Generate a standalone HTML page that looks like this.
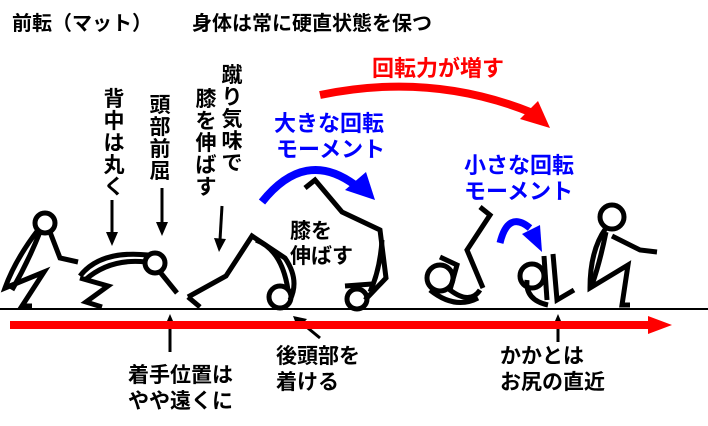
<!DOCTYPE html>
<html><head><meta charset="utf-8"><style>
body{margin:0;background:#fff;width:708px;height:426px;overflow:hidden}
svg{display:block}
text{font-family:"Liberation Sans","Noto Sans CJK JP",sans-serif;font-weight:bold}
</style></head><body>
<svg width="708" height="426" viewBox="0 0 708 426">
<text x="12" y="30" font-size="20">前転（マット）</text>
<text x="192" y="30" font-size="20">身体は常に硬直状態を保つ</text>
<text x="372" y="76" font-size="22" fill="#f00">回転力が増す</text>
<text x="274" y="131" font-size="22" fill="#00f">大きな回転</text>
<text x="276" y="157" font-size="22" fill="#00f">モーメント</text>
<text x="464" y="173" font-size="22" fill="#00f">小さな回転</text>
<text x="464" y="199" font-size="22" fill="#00f">モーメント</text>
<g font-size="21" text-anchor="middle">
<text x="114" y="106">背</text><text x="114" y="128">中</text><text x="114" y="150">は</text><text x="114" y="172">丸</text><text x="114" y="194">く</text>
<text x="160" y="112">頭</text><text x="160" y="134">部</text><text x="160" y="156">前</text><text x="160" y="178">屈</text>
<text x="206" y="106">膝</text><text x="206" y="128">を</text><text x="206" y="150">伸</text><text x="206" y="172">ば</text><text x="206" y="194">す</text>
<text x="232" y="82">蹴</text><text x="232" y="104">り</text><text x="232" y="126">気</text><text x="232" y="148">味</text><text x="232" y="170">で</text>
</g>
<text x="290" y="238" font-size="21">膝を</text>
<text x="290" y="263" font-size="21">伸ばす</text>
<text x="128" y="382" font-size="21">着手位置は</text>
<text x="128" y="408" font-size="21">やや遠くに</text>
<text x="276" y="363" font-size="21">後頭部を</text>
<text x="276" y="389" font-size="21">着ける</text>
<text x="500" y="363" font-size="21">かかとは</text>
<text x="500" y="389" font-size="21">お尻の直近</text>
<g stroke="#000" stroke-width="3" fill="none">
<line x1="112" y1="200" x2="112" y2="234"/>
<line x1="162" y1="188" x2="162" y2="224"/>
<line x1="222" y1="206" x2="220" y2="240"/>
<line x1="170" y1="352" x2="170" y2="326"/>
<line x1="320" y1="338" x2="303" y2="324"/>
<line x1="558" y1="342" x2="558" y2="326"/>
</g>
<g fill="#000">
<path d="M106,232 L118,232 L112,246z"/>
<path d="M156,222 L168,222 L162,236z"/>
<path d="M214,238 L226,239 L219,252z"/>
<path d="M164,328 L176,328 L170,314z"/>
<path d="M298,329 L307,319 L293,316z"/>
<path d="M552,328 L564,328 L558,314z"/>
</g>
<line x1="0" y1="309" x2="708" y2="309" stroke="#000" stroke-width="2"/>
<rect x="10" y="321" width="640" height="8" fill="#f00"/>
<path d="M648,316 L672,325 L648,334z" fill="#f00"/>
<path d="M320,95 Q430,72 530,112" stroke="#f00" stroke-width="8" fill="none"/>
<path d="M520,119 L550,128 L538,101z" fill="#f00"/>
<path d="M262,202 Q305,148 355,185" stroke="#00f" stroke-width="8" fill="none"/>
<path d="M345,190 L375,200 L366,172z" fill="#00f"/>
<path d="M500,243 Q508,210 530,228" stroke="#00f" stroke-width="7" fill="none"/>
<path d="M522,234 L542,252 L540,225z" fill="#00f"/>
<g stroke="#000" stroke-width="5" fill="none" stroke-linejoin="miter" stroke-linecap="butt">
<circle cx="45" cy="223" r="10"/>
<path d="M38,230 Q15,260 5,288 L44,272 L22,306 L32,306"/>
<path d="M40,232 Q28,262 12,290"/>
<path d="M50,232 L60,258 L78,262"/>
<circle cx="155" cy="263" r="10"/>
<path d="M80,276 Q100,250 148,255"/>
<path d="M85,280 Q110,258 146,262"/>
<path d="M160,272 L177,293"/>
<path d="M80,278 L108,286 L86,302 L102,307"/>
<path d="M188,297 L200,307"/>
<path d="M188,297 L226,276 L252,236 L285,258 Q300,280 290,300"/>
<path d="M256,240 Q282,250 288,290"/>
<circle cx="280" cy="297" r="11"/>
<path d="M305,188 L315,180 L342,212 L380,230 L386,278 L365,300"/>
<path d="M382,240 Q380,270 370,292"/>
<circle cx="357" cy="299" r="10"/>
<path d="M345,286 L372,284"/>
<path d="M480,207 L490,215 L467,250 L483,288"/>
<path d="M440,257 L457,265 L450,290 Q470,305 480,290"/>
<circle cx="440" cy="278" r="13"/>
<path d="M430,290 Q455,310 478,298"/>
<circle cx="532" cy="276" r="12"/>
<path d="M527,280 Q525,300 548,305"/>
<path d="M544,256 L547,300"/>
<path d="M553,254 L557,300 L574,290"/>
<circle cx="612" cy="217" r="12"/>
<path d="M606,228 Q590,250 590,288 L628,265 L622,305 L630,305"/>
<path d="M606,232 Q600,262 592,285"/>
<path d="M612,236 L640,250 L657,252"/>
</g>
</svg>
</body></html>
